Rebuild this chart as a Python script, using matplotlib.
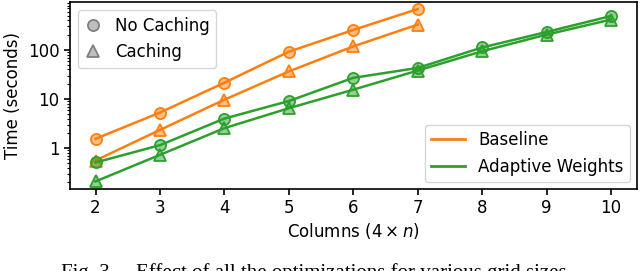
import matplotlib
matplotlib.use("Agg")
import matplotlib.pyplot as plt
import matplotlib.ticker as mticker
from matplotlib.lines import Line2D

COLORS = {
    "baseline": "#ff7f0e",
    "adaptive": "#2ca02c",
    "legend": "#808080",
}

baseline_cols = [2, 3, 4, 5, 6, 7]
baseline_no_cache = [1.55, 5.3, 21.5, 92, 255, 680]
baseline_cache = [0.56, 2.35, 9.7, 36.5, 118, 328]

adaptive_cols = [2, 3, 4, 5, 6, 7, 8, 9, 10]
adaptive_no_cache = [0.51, 1.15, 4.0, 9.1, 27, 43, 112, 232, 490]
adaptive_cache = [0.21, 0.73, 2.55, 6.5, 15.5, 38, 94, 205, 415]

caption = "Fig. 3.    Effect of all the optimizations for various grid sizes."

plt.rcParams["font.family"] = "DejaVu Sans"
plt.rcParams["font.size"] = 12

fig = plt.figure(figsize=(6.4, 2.71), dpi=100)
ax = fig.add_axes([0.109, 0.303, 0.886, 0.690])


def draw(ax, x, y, color, marker):
    ax.plot(x, y, color=color, linewidth=1.8, marker=marker, markersize=8,
            markerfacecolor=matplotlib.colors.to_rgba(color, 0.5),
            markeredgecolor=color, markeredgewidth=1.3)


draw(ax, baseline_cols, baseline_no_cache, COLORS["baseline"], "o")
draw(ax, baseline_cols, baseline_cache, COLORS["baseline"], "^")
draw(ax, adaptive_cols, adaptive_no_cache, COLORS["adaptive"], "o")
draw(ax, adaptive_cols, adaptive_cache, COLORS["adaptive"], "^")

ax.set_yscale("log")
ax.set_ylim(0.148, 950)
ax.set_xlim(1.6, 10.4)
ax.set_xticks(range(2, 11))
ax.yaxis.set_major_formatter(mticker.FuncFormatter(lambda v, _: f"{v:g}"))
ax.set_xlabel(r"Columns ($4 \times n$)", labelpad=3)
ax.set_ylabel("Time (seconds)")
ax.tick_params(which="major", length=4, width=1.2)
ax.tick_params(which="minor", length=2, width=0.8)
for s in ax.spines.values():
    s.set_linewidth(1.2)

marker_handles = [
    Line2D([], [], linestyle="none", marker=m, markersize=8,
           markerfacecolor=matplotlib.colors.to_rgba(COLORS["legend"], 0.5),
           markeredgecolor=COLORS["legend"], markeredgewidth=1.3)
    for m in ("o", "^")
]
leg1 = ax.legend(marker_handles, ["No Caching", "Caching"], loc="upper left",
                 handlelength=1.0, borderaxespad=0.5)
ax.add_artist(leg1)

line_handles = [
    Line2D([], [], color=COLORS["baseline"], linewidth=2),
    Line2D([], [], color=COLORS["adaptive"], linewidth=2),
]
ax.legend(line_handles, ["Baseline", "Adaptive Weights"], loc="lower right",
          borderaxespad=0.4)

# caption sits at the very bottom edge, cut off like in the source page
fig.text(0.495, 0.0295, caption, ha="center", va="top",
         family="Liberation Serif", fontsize=15)

fig.savefig("out.png", dpi=100)
